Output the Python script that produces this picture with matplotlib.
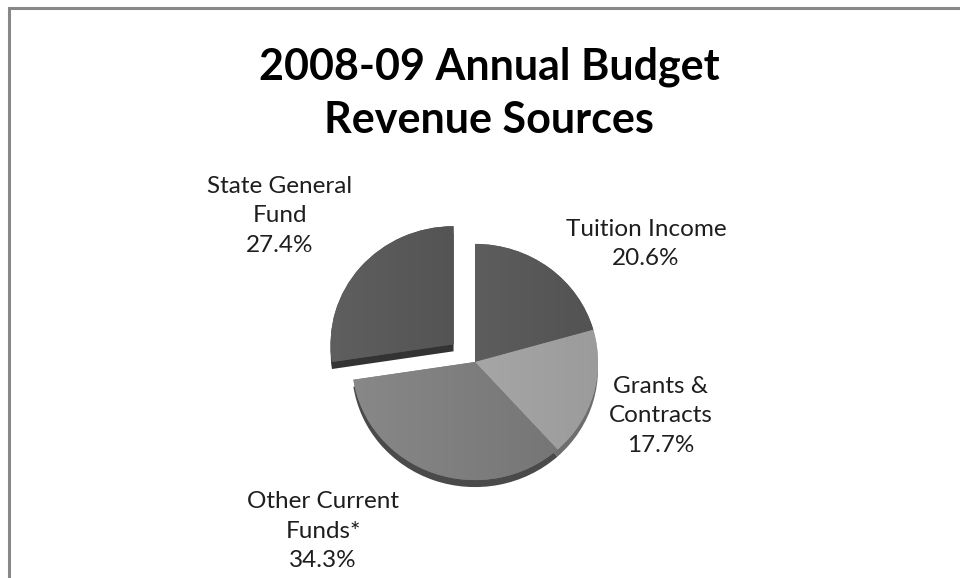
import numpy as np
import matplotlib
matplotlib.use("Agg")
import matplotlib.pyplot as plt
from matplotlib.patches import Rectangle

# revenue shares, clockwise from 12 o'clock
sources = ["Tuition Income", "Grants &\nContracts", "Other Current\nFunds*", "State General\nFund"]
shares = [20.6, 17.7, 34.3, 27.4]
pulled_out = [0, 0, 0, 1]

top_colors = ["#5e5e5e", "#a7a7a7", "#7e7e7e", "#535353"]
side_colors = ["#3e3e3e", "#6e6e6e", "#4a4a4a", "#333333"]

# label anchor points (pixels from top-left)
label_xy = [(646, 244), (661, 416), (323, 531), (280, 216)]

W, H = 960, 578
SQ = 0.96  # vertical squash of the tilted pie
cx, cy = 475, 362
R = 123
DEPTH = 7
explode = [p * 0.23 * R for p in pulled_out]  # pie() offsets in data units


def ydat(ypx):
    return (H - ypx) / SQ


fig = plt.figure(figsize=(9.6, 5.78), dpi=100)
ax = fig.add_axes([0, 0, 1, 1])

# side of the pie: same pie shifted down and darkened
ax.pie(shares, explode=explode, colors=side_colors, startangle=90,
       counterclock=False, radius=R, center=(cx, ydat(cy + DEPTH)),
       wedgeprops=dict(linewidth=0))
wedges, _ = ax.pie(shares, explode=explode, colors=top_colors, startangle=90,
                   counterclock=False, radius=R, center=(cx, ydat(cy)),
                   wedgeprops=dict(linewidth=0))

# soft left-to-right shading on each top face
grad = np.linspace(0.06, -0.06, 256)[None, :]
for w, c in zip(wedges, top_colors):
    base = np.array(matplotlib.colors.to_rgb(c))
    img = np.clip(base[None, None, :] + grad[..., None], 0, 1)
    im = ax.imshow(img, extent=(cx - R - 60, cx + R + 40, ydat(cy + R + 40), ydat(cy - R - 60)),
                   aspect="auto", interpolation="bilinear", zorder=w.get_zorder() + 0.1)
    im.set_clip_path(w)

ax.set_aspect("auto")
ax.set_xlim(0, W)
ax.set_ylim(0, H / SQ)
ax.axis("off")

for name, val, (lx, ly) in zip(sources, shares, label_xy):
    ax.text(lx, ydat(ly), f"{name}\n{val}%", ha="center", va="center",
            fontsize=17.5, family="Lato", color="#1e1e1e", linespacing=1.52)

fig.text(489 / W, 1 - 93 / H, "2008-09 Annual Budget\nRevenue Sources", ha="center",
         va="center", fontsize=31, fontweight="bold", family="Lato", linespacing=1.4)

# chart area border (continues past the right and bottom edges)
fig.patches.append(Rectangle((9 / W, -0.1), 1.2, 1 - 8 / H + 0.1, transform=fig.transFigure,
                             fill=False, edgecolor="#888888", linewidth=2.2))

fig.savefig("out.png", dpi=100)
